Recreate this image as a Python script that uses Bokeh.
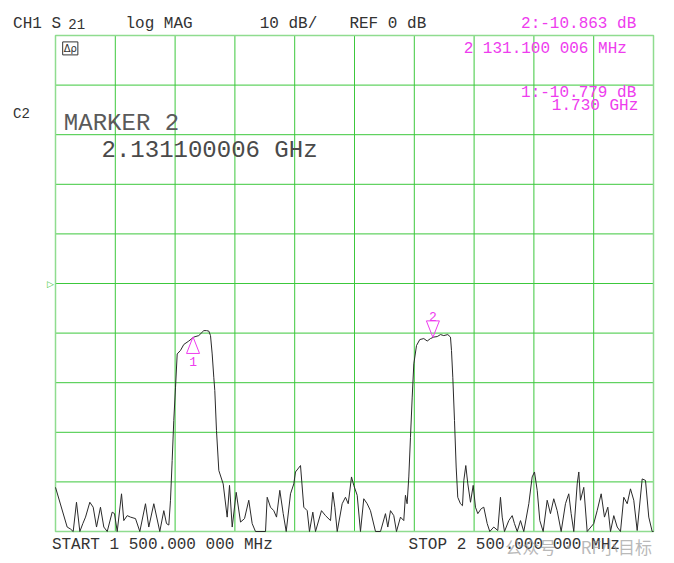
from bokeh.plotting import figure
from bokeh.models import Label, Range1d
from bokeh.embed import file_html
from bokeh.resources import INLINE

# ---- data ----
start_mhz = 1500.0
stop_mhz = 2500.0
ref_db = 0.0
scale_db_div = 10.0
x_ticks = [1600, 1700, 1800, 1900, 2000, 2100, 2200, 2300, 2400]
y_ticks = [-40, -30, -20, -10, 0, 10, 20, 30, 40]

freq_mhz = [1500, 1519.5, 1525.1, 1529.6, 1535.1, 1540.7, 1545.7, 1550.2, 1557.4, 1563.0,
            1568.6, 1575.2, 1580.8, 1586.5, 1594.8, 1598.7, 1603.2, 1610.4, 1614.2, 1619.9,
            1625.4, 1633.8, 1641.0, 1650.5, 1656.0, 1664.4, 1674.4, 1681.1, 1685.6, 1689.5,
            1692.3, 1695.1, 1697.8, 1700.7, 1703.5, 1709.0, 1714.5, 1722.9, 1731.3, 1739.6,
            1748.0, 1752.5, 1756.4, 1759.2, 1762.0, 1764.7, 1766.4, 1769.2, 1773.1, 1780.4,
            1787.1, 1791.0, 1795.5, 1802.2, 1809.4, 1816.1, 1823.2, 1828.9, 1834.4, 1851.2,
            1854.0, 1859.5, 1865.0, 1869.6, 1875.1, 1880.8, 1885.8, 1893.0, 1898.5, 1901.3,
            1909.7, 1915.2, 1920.9, 1924.7, 1930.3, 1934.8, 1944.8, 1951.5, 1959.9, 1963.7,
            1967.1, 1971.1, 1979.4, 1984.9, 1989.5, 1995.0, 1998.8, 2004.5, 2010.0, 2015.5,
            2021.2, 2026.7, 2035.1, 2043.5, 2051.8, 2055.7, 2060.2, 2065.7, 2070.2, 2076.9,
            2082.4, 2085.2, 2088.0, 2090.8, 2093.6, 2096.5, 2099.2, 2103.7, 2109.2, 2115.9,
            2121.6, 2127.1, 2132.6, 2138.3, 2143.8, 2149.3, 2156.0, 2160.5, 2162.2, 2164.4,
            2167.2, 2170.0, 2172.7, 2177.2, 2180.6, 2182.8, 2186.1, 2189.5, 2194.0, 2198.5,
            2202.3, 2206.2, 2211.9, 2216.2, 2221.9, 2226.2, 2232.9, 2239.6, 2244.1, 2247.0,
            2250.8, 2258.0, 2263.7, 2267.5, 2272.1, 2277.6, 2283.1, 2291.5, 2297.1, 2301.0,
            2305.5, 2309.9, 2315.5, 2322.2, 2327.7, 2333.2, 2338.9, 2345.6, 2352.8, 2358.3,
            2362.3, 2366.7, 2372.4, 2375.1, 2377.9, 2383.4, 2389.1, 2400.1, 2405.8, 2412.5,
            2418.0, 2423.6, 2428.1, 2433.6, 2439.3, 2444.8, 2450.3, 2456.0, 2461.5, 2467.0,
            2472.7, 2481.1, 2486.6, 2492.1, 2497.8, 2500]

s21_db = [-41.1, -49.1, -49.5, -50, -44.1, -50, -48.4, -47.1, -44.1, -45.1,
          -49.1, -45.1, -49.1, -50, -46.1, -46.4, -50, -42.4, -47.8, -46.8,
          -47.1, -47.4, -50, -44.4, -49.1, -44.4, -50, -45.8, -48.4, -48.7,
          -43.7, -35.7, -27.6, -20.9, -14.2, -13.5, -12.3, -11.6, -10.8, -10.5,
          -9.5, -9.5, -9.6, -10.5, -14.2, -18.9, -21.6, -29.6, -37.7, -40.4,
          -47.1, -40.7, -49.1, -42.1, -48.1, -47.4, -43.7, -48.4, -50, -50,
          -43.1, -45.1, -45.8, -47.1, -41.7, -46.4, -50, -42.4, -40.4, -38.0,
          -36.7, -45.1, -45.8, -50, -46.1, -50, -45.8, -46.8, -47.8, -42.1,
          -45.1, -50, -44.4, -43.1, -44.4, -39.0, -40.7, -42.7, -50, -43.4,
          -44.4, -45.8, -50, -50, -46.4, -49.1, -45.8, -46.8, -50, -47.1,
          -47.8, -42.7, -44.4, -39.0, -31.0, -22.9, -16.2, -12.5, -11.3, -11.1,
          -11.6, -11.1, -10.8, -10.7, -10.3, -10.5, -10.3, -10.8, -13.5, -18.9,
          -27.6, -37.0, -43.1, -44.4, -44.8, -39.7, -36.7, -40.4, -44.1, -40.7,
          -45.1, -46.4, -45.4, -45.1, -48.4, -50, -49.1, -49.8, -43.1, -47.1,
          -50, -47.8, -46.8, -48.4, -50, -47.8, -50, -44.4, -39.0, -38.0,
          -41.7, -47.8, -50, -43.7, -46.4, -43.4, -45.8, -50, -44.4, -42.4,
          -46.4, -50, -40.4, -38.0, -43.7, -41.1, -50, -48.4, -45.8, -42.4,
          -47.1, -45.1, -50, -46.8, -49.1, -50, -43.1, -44.4, -41.4, -43.7,
          -49.8, -39.4, -39.7, -47.1, -50, -50]

marker_ids = ["1", "2"]
marker_freq_mhz = [1730.0, 2131.100006]
marker_db = [-10.779, -10.863]
marker_dir = ["up", "down"]   # triangle below trace (pointing up) / above trace (pointing down)

header_texts = ["CH1 S", "21", "log MAG", "10 dB/", "REF 0 dB"]
readout_texts = ["2:-10.863 dB", "2 131.100 006 MHz", "1:-10.779 dB", "1.730 GHz"]
marker_block = ["C2", "MARKER 2", "2.131100006 GHz"]
start_text = "START 1 500.000 000 MHz"
stop_text = "STOP 2 500.000 000 MHz"
watermark = "公众号 · RF小目标"

# ---- layout / styles ----
W, H = 660, 560
FRAME_L, FRAME_R, FRAME_T, FRAME_B = 55, 653, 35, 531   # graticule in canvas pixels
GRID = "#3cc83c"
EDGE = "#8fdc8f"
MAG = "#ee3cee"
INK = "#333333"
FONT = "Liberation Mono"

y_lo = ref_db - 5 * scale_db_div
y_hi = ref_db + 5 * scale_db_div
mhz_per_px = (stop_mhz - start_mhz) / (FRAME_R - FRAME_L)
db_per_px = (y_hi - y_lo) / (FRAME_B - FRAME_T)
x_range = Range1d(start_mhz - FRAME_L * mhz_per_px, stop_mhz + (W - FRAME_R) * mhz_per_px)
y_range = Range1d(y_lo - (H - FRAME_B) * db_per_px, y_hi + FRAME_T * db_per_px)

p = figure(width=W, height=H, x_range=x_range, y_range=y_range,
           x_axis_location=None, y_axis_location=None,
           output_backend="svg", toolbar_location=None,
           min_border=0)
p.background_fill_color = "white"
p.border_fill_color = "white"
p.outline_line_color = None
p.xgrid.visible = False
p.ygrid.visible = False

# graticule
p.segment(x0=x_ticks, y0=[y_lo] * len(x_ticks), x1=x_ticks, y1=[y_hi] * len(x_ticks),
          line_color=GRID, line_width=1)
p.segment(x0=[start_mhz] * len(y_ticks), y0=y_ticks, x1=[stop_mhz] * len(y_ticks), y1=y_ticks,
          line_color=GRID, line_width=1)
p.quad(left=[start_mhz], right=[stop_mhz], bottom=[y_lo], top=[y_hi],
       fill_color=None, line_color=EDGE, line_width=1.5)

# trace
p.line(freq_mhz, s21_db, line_color="#2a2a2a", line_width=1)

# marker triangles (from marker values + fixed glyph size in px)
half_w = 6.5 * mhz_per_px
tri_h = 16.5 * db_per_px
xs, ys = [], []
for f, d, dr in zip(marker_freq_mhz, marker_db, marker_dir):
    base = d - tri_h if dr == "up" else d + tri_h
    xs.append([f, f - half_w, f + half_w])
    ys.append([d, base, base])
p.patches(xs, ys, fill_color=None, line_color=MAG, line_width=1)

for mid, f, d, dr in zip(marker_ids, marker_freq_mhz, marker_db, marker_dir):
    if dr == "up":
        p.add_layout(Label(x=f, y=d - 20 * db_per_px, text=mid, text_align="center",
                           text_baseline="top", text_font=FONT,
                           text_font_size="13px", text_color=MAG))
    else:
        p.add_layout(Label(x=f, y=d + 21 * db_per_px, text=mid, text_align="center",
                           text_baseline="alphabetic", text_font=FONT,
                           text_font_size="13px", text_color=MAG))

DY = 3.2 * db_per_px   # baseline correction for the mono font


def lab(x, y, t, color=INK, size="16px", align="left"):
    p.add_layout(Label(x=x, y=y + DY, text=t, text_font=FONT, text_font_size=size,
                       text_color=color, text_baseline="alphabetic",
                       text_align=align))


# header line
lab(1429.0, 51.6, header_texts[0])
lab(1521.5, 51.7, header_texts[1], size="14px")
lab(1617.0, 51.6, header_texts[2])
lab(1841.5, 51.6, header_texts[3])
lab(1991.5, 51.6, header_texts[4])
lab(2278.5, 51.6, readout_texts[0], color=MAG)

# readouts inside graticule
lab(2182.5, 46.6, readout_texts[1], color=MAG)
lab(2278.5, 37.7, readout_texts[2], color=MAG)
lab(2330.0, 35.2, readout_texts[3], color=MAG)

# channel 2 / marker block
lab(1429.0, 33.5, marker_block[0], size="14px")
lab(1514.0, 31.6, marker_block[1], size="24px", color="#5a5a5a")
lab(1577.0, 26.2, marker_block[2], size="24px", color="#4a4a4a")

# small status box
p.add_layout(Label(x=1512.0, y=47.4, text="Δρ", text_font="DejaVu Sans",
                   text_font_size="10px", text_color=INK, text_baseline="middle",
                   border_line_color=INK, border_line_width=1, padding=1))

# reference-position arrow at left edge
p.add_layout(Label(x=start_mhz - 8.5 * mhz_per_px, y=ref_db, text="▷",
                   text_font="DejaVu Sans", text_font_size="9px",
                   text_color=GRID, text_baseline="middle"))

# start / stop
lab(1494.0, -53.4, start_text)
lab(2090.5, -53.4, stop_text)

# watermark
p.add_layout(Label(x=2252.0, y=-53.0, text=watermark,
                   text_font="Noto Sans CJK SC", text_font_size="17px",
                   text_color="#9a9a9a", text_alpha=0.7,
                   text_baseline="alphabetic"))

open("out.html", "w").write(file_html(p, INLINE))
